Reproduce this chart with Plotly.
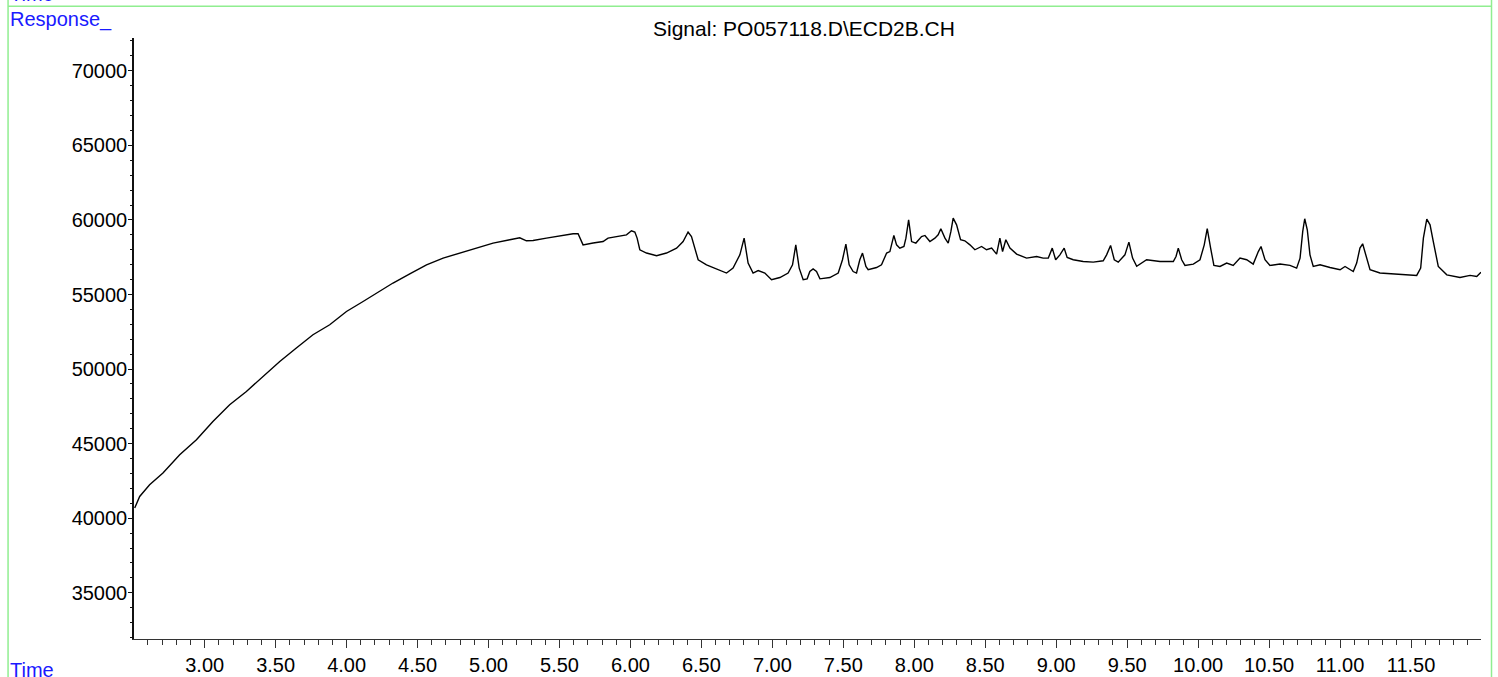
import plotly.graph_objects as go

# Retention time (min) and detector response
time_min = [
    2.507, 2.542, 2.612, 2.706, 2.824, 2.942, 3.058, 3.176, 3.294, 3.411,
    3.529, 3.646, 3.763, 3.881, 3.999, 4.116, 4.210, 4.327, 4.445, 4.563,
    4.680, 4.797, 4.915, 5.032, 5.150, 5.220, 5.267, 5.314, 5.408, 5.502,
    5.596, 5.631, 5.666, 5.737, 5.807, 5.842, 5.902, 5.972, 6.007, 6.031,
    6.047, 6.066, 6.113, 6.184, 6.254, 6.325, 6.371, 6.406, 6.430, 6.454,
    6.477, 6.536, 6.607, 6.677, 6.723, 6.771, 6.801, 6.829, 6.864, 6.900,
    6.947, 6.994, 7.053, 7.111, 7.142, 7.165, 7.189, 7.217, 7.245, 7.264,
    7.287, 7.311, 7.335, 7.405, 7.464, 7.494, 7.518, 7.541, 7.569, 7.593,
    7.616, 7.635, 7.659, 7.675, 7.734, 7.769, 7.805, 7.828, 7.856, 7.875,
    7.898, 7.927, 7.941, 7.960, 7.981, 8.011, 8.051, 8.075, 8.110, 8.145,
    8.168, 8.187, 8.216, 8.239, 8.258, 8.274, 8.298, 8.326, 8.356, 8.392,
    8.427, 8.474, 8.509, 8.545, 8.580, 8.603, 8.622, 8.645, 8.674, 8.721,
    8.791, 8.862, 8.908, 8.944, 8.972, 8.996, 9.026, 9.056, 9.077, 9.120,
    9.190, 9.261, 9.331, 9.355, 9.383, 9.409, 9.437, 9.484, 9.512, 9.538,
    9.567, 9.637, 9.731, 9.825, 9.844, 9.860, 9.884, 9.907, 9.966, 10.013,
    10.043, 10.064, 10.088, 10.111, 10.154, 10.201, 10.247, 10.295, 10.342, 10.388,
    10.424, 10.443, 10.471, 10.506, 10.577, 10.647, 10.694, 10.718, 10.737, 10.751,
    10.769, 10.788, 10.811, 10.859, 10.929, 11.000, 11.035, 11.093, 11.117, 11.140,
    11.159, 11.183, 11.211, 11.281, 11.375, 11.469, 11.540, 11.568, 11.587, 11.611,
    11.634, 11.657, 11.692, 11.752, 11.845, 11.916, 11.963, 11.993,
]
response = [
    40680, 41460, 42240, 43030, 44250, 45260, 46490, 47610, 48500, 49500,
    50510, 51410, 52300, 52970, 53860, 54530, 55100, 55770, 56390, 56990,
    57440, 57780, 58110, 58450, 58670, 58800, 58600, 58620, 58780, 58940,
    59070, 59070, 58330, 58450, 58550, 58780, 58890, 59000, 59270, 59190,
    58780, 58000, 57780, 57600, 57780, 58110, 58550, 59190, 58890, 58110,
    57330, 56990, 56720, 56440, 56770, 57660, 58780, 57110, 56440, 56610,
    56440, 55990, 56140, 56440, 56990, 58330, 56770, 55990, 56050, 56540,
    56720, 56540, 56050, 56140, 56440, 57330, 58380, 56990, 56540, 56440,
    57330, 57780, 56880, 56660, 56810, 56990, 57780, 57880, 58960, 58330,
    58110, 58220, 58780, 60010, 58550, 58450, 58890, 58960, 58550, 58780,
    59000, 59410, 58780, 58450, 59230, 60120, 59670, 58670, 58600, 58330,
    58000, 58220, 58000, 58110, 57710, 58780, 57880, 58670, 58110, 57710,
    57440, 57550, 57440, 57440, 58110, 57330, 57660, 58110, 57480, 57330,
    57210, 57170, 57260, 57660, 58290, 57330, 57170, 57660, 58510, 57440,
    56890, 57330, 57210, 57210, 57550, 58110, 57330, 56950, 57040, 57330,
    58330, 59410, 58110, 56950, 56880, 57110, 56950, 57440, 57330, 57040,
    57880, 58220, 57330, 56950, 57040, 56950, 56770, 57440, 59230, 60080,
    59340, 57660, 56880, 56990, 56810, 56660, 56880, 56540, 57110, 58110,
    58400, 57660, 56660, 56440, 56370, 56320, 56280, 56770, 58780, 60060,
    59670, 58550, 56880, 56320, 56140, 56280, 56210, 56500,
]

x_tick_vals = [3.0, 3.5, 4.0, 4.5, 5.0, 5.5, 6.0, 6.5, 7.0, 7.5,
               8.0, 8.5, 9.0, 9.5, 10.0, 10.5, 11.0, 11.5]
x_tick_text = ["3.00", "3.50", "4.00", "4.50", "5.00", "5.50", "6.00", "6.50", "7.00", "7.50",
               "8.00", "8.50", "9.00", "9.50", "10.00", "10.50", "11.00", "11.50"]
y_tick_vals = [35000, 40000, 45000, 50000, 55000, 60000, 65000, 70000]
y_tick_text = ["35000", "40000", "45000", "50000", "55000", "60000", "65000", "70000"]

title_text = "Signal: PO057118.D\\ECD2B.CH"

FONT = "Liberation Sans, Arial, sans-serif"
GREEN = "#90ee90"
BLUE = "#1a1aff"

fig = go.Figure()
fig.add_trace(go.Scatter(
    x=time_min, y=response, mode="lines",
    line=dict(color="#000000", width=1.4),
    hoverinfo="skip", showlegend=False,
))

fig.update_layout(
    template="none",
    width=1498, height=677,
    autosize=False,
    margin=dict(l=134, r=17, t=38, b=38, pad=0, autoexpand=False),
    paper_bgcolor="white", plot_bgcolor="white",
    font=dict(family=FONT, size=20, color="#000000"),
    showlegend=False,
    xaxis=dict(
        automargin=False,
        range=[2.502, 11.993],
        showgrid=False, zeroline=False,
        showline=True, linecolor="#333333", linewidth=1.3,
        ticks="outside", ticklen=8, tickwidth=1, tickcolor="#333333",
        tickvals=x_tick_vals, ticktext=x_tick_text,
        tickfont=dict(family=FONT, size=20, color="#000000"),
        ticklabelstandoff=0,
        minor=dict(dtick=0.1, tick0=0, ticks="outside", ticklen=5,
                   tickwidth=1, tickcolor="#333333", showgrid=False),
    ),
    yaxis=dict(
        automargin=False,
        range=[31900, 72200],
        showgrid=False, zeroline=False,
        showline=True, linecolor="#111111", linewidth=1.5,
        ticks="outside", ticklen=4, tickwidth=1, tickcolor="#111111",
        tickvals=y_tick_vals, ticktext=y_tick_text,
        tickfont=dict(family=FONT, size=20, color="#000000"),
        ticklabelstandoff=-3,
        minor=dict(dtick=1000, tick0=0, ticks="outside", ticklen=2,
                   tickwidth=1, tickcolor="#111111", showgrid=False),
    ),
    shapes=[
        dict(type="line", xref="paper", yref="paper", x0=-0.0935, x1=1.0078,
             y0=1.0527, y1=1.0527, line=dict(color=GREEN, width=1.5)),
        dict(type="line", xref="paper", yref="paper", x0=-0.0935, x1=-0.0935,
             y0=1.2, y1=-0.2, line=dict(color=GREEN, width=1.5)),
        dict(type="line", xref="paper", yref="paper", x0=1.0078, x1=1.0078,
             y0=1.2, y1=-0.2, line=dict(color=GREEN, width=1.5)),
    ],
    annotations=[
        dict(text=title_text, xref="paper", yref="paper", x=0.4974, y=1.0166,
             xanchor="center", yanchor="middle", showarrow=False,
             font=dict(family=FONT, size=21, color="#000000")),
        dict(text="Response_", xref="paper", yref="paper", x=-0.0935, y=1.0316,
             xanchor="left", yanchor="middle", showarrow=False,
             font=dict(family=FONT, size=20, color=BLUE)),
        dict(text="Time", xref="paper", yref="paper", x=-0.0935, y=-0.0516,
             xanchor="left", yanchor="middle", showarrow=False,
             font=dict(family=FONT, size=20, color=BLUE)),
        dict(text="Time", xref="paper", yref="paper", x=-0.0935, y=1.0516,
             xanchor="left", yanchor="bottom", showarrow=False,
             font=dict(family=FONT, size=20, color=BLUE)),
    ],
)

fig.write_html(
    "out.html",
    config={"displayModeBar": False},
    post_script="document.body.style.margin='0';document.body.style.overflow='hidden';",
)
